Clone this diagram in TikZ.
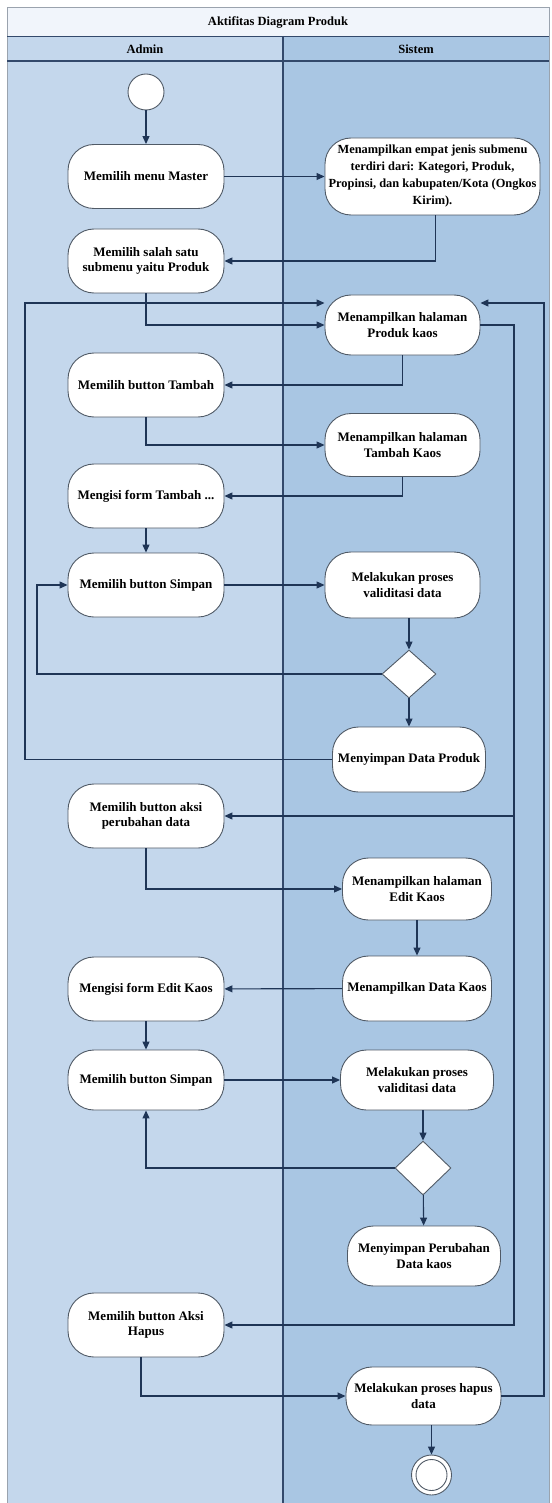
\documentclass[tikz,border=0pt]{standalone}
\usepackage{fontspec}
\setmainfont{Liberation Serif}
\usetikzlibrary{arrows.meta,shapes.geometric,calc}

\definecolor{frameline}{HTML}{9AA3AE}
\definecolor{laneline}{HTML}{33496B}
\definecolor{titlefill}{HTML}{F1F5FB}
\definecolor{adminfill}{HTML}{C4D7EC}
\definecolor{sistemfill}{HTML}{A9C6E3}
\definecolor{flowline}{HTML}{1F3556}
\definecolor{nodeline}{HTML}{505A66}

\begin{document}
\begin{tikzpicture}[x=1pt,y=-1pt,
  act/.style={draw=nodeline, line width=0.9pt, fill=white, rounded corners=26pt,
    minimum width=156pt, minimum height=64pt, align=center, inner sep=0pt,
    font=\fontsize{13}{15.5}\selectfont\bfseries},
  decision/.style={diamond, draw=nodeline, line width=0.9pt, fill=white,
    minimum width=54pt, minimum height=48pt, inner sep=0pt},
  flow/.style={draw=flowline, line width=1.1pt,
    -{Triangle[length=8pt,width=7pt]}},
  lanetext/.style={font=\fontsize{12.5}{14}\selectfont\bfseries}]

\useasboundingbox (0,0) rectangle (551,1503);

% swimlane frame
\fill[white] (0,0) rectangle (551,1503);
\fill[titlefill] (7,8) rectangle (549,36);
\fill[adminfill] (7,36) rectangle (283,1503);
\fill[sistemfill] (283,36) rectangle (549,1503);
\draw[frameline, line width=1pt] (7,1503) -- (7,8) -- (549,8) -- (549,1503);
\draw[laneline, line width=0.9pt] (7,36) -- (549,36);
\draw[laneline, line width=1.1pt] (7,61) -- (549,61);
\draw[laneline, line width=1.1pt] (283,36) -- (283,1503);

\node[lanetext] (title) at (278,22) {Aktifitas Diagram Produk};
\node[lanetext] (admin) at (145,49) {Admin};
\node[lanetext] (sistem) at (416,49) {Sistem};

% initial state
\node[circle, draw=nodeline, line width=0.9pt, fill=white, minimum size=36pt, inner sep=0pt] (start) at (146,92) {};

% Admin activities
\node[act] (A1) at (146,176.5) {Memilih menu Master};
\node[act] (A2) at (146,261) {Memilih salah satu\\submenu yaitu Produk};
\node[act] (A3) at (146,385) {Memilih button Tambah};
\node[act] (A4) at (146,496) {Mengisi form Tambah ...};
\node[act] (A5) at (146,585) {Memilih button Simpan};
\node[act] (A6) at (146,816) {Memilih button aksi\\perubahan data};
\node[act] (A7) at (146,989) {Mengisi form Edit Kaos};
\node[act, minimum height=60pt] (A8) at (146,1080) {Memilih button Simpan};
\node[act] (A9) at (146,1325) {Memilih button Aksi\\Hapus};

% Sistem activities
\node[act, minimum width=215pt, minimum height=77pt, font=\fontsize{12.4}{17}\selectfont\bfseries] (S1) at (432.5,176.5)
  {Menampilkan empat jenis submenu\\terdiri dari: Kategori, Produk,\\Propinsi, dan kabupaten/Kota (Ongkos\\Kirim).};
\node[act, minimum width=155pt, minimum height=60pt] (S2) at (402.5,325) {Menampilkan halaman\\Produk kaos};
\node[act, minimum width=155pt, minimum height=63pt] (S3) at (402.5,445) {Menampilkan halaman\\Tambah Kaos};
\node[act, minimum width=155pt, minimum height=66pt] (S4) at (402.5,585) {Melakukan proses\\validitasi data};
\node[decision] (D1) at (409,674) {};
\node[act, minimum width=153pt, minimum height=65pt] (S5) at (409,759.5) {Menyimpan Data Produk};
\node[act, minimum width=149pt, minimum height=62pt] (S6) at (417,889) {Menampilkan halaman\\Edit Kaos};
\node[act, minimum width=149pt, minimum height=65pt] (S7) at (417,988.5) {Menampilkan Data Kaos};
\node[act, minimum width=153pt, minimum height=60pt] (S8) at (417,1080) {Melakukan proses\\validitasi data};
\node[decision, minimum width=56pt, minimum height=54pt] (D2) at (423,1168) {};
\node[act, minimum width=153pt, minimum height=60pt] (S9) at (424,1256) {Menyimpan Perubahan\\Data kaos};
\node[act, minimum width=155pt, minimum height=58pt] (S10) at (423.5,1396) {Melakukan proses hapus\\data};

% final state
\node[circle, draw=nodeline, line width=0.9pt, fill=white, minimum size=40pt, inner sep=0pt] (end) at (431.5,1475) {};
\node[circle, draw=nodeline, line width=0.9pt, fill=white, minimum size=31pt, inner sep=0pt] (endin) at (end) {};

% routing columns
\coordinate (loopL) at (25,303);
\coordinate (loopS) at (37,0);
\coordinate (loopR) at (544,303);
\coordinate (railR) at (514,0);

% flows
\draw[flow] (start) -- (A1);
\draw[flow] (A1) -- (S1);
\draw[flow] ($(S1.south)+(3,0)$) |- (A2.east);
\draw[flow] (A2.south) |- (S2.west);
\draw[flow] (S5.west) -| (loopL) -- (S2.west |- loopL);
\draw[flow] (S10.east) -| (loopR) -- (S2.east |- loopR);
\draw[flow] (S2.east) -| (railR |- A9.east) -- (A9.east);
\draw[flow] (railR |- A6.east) -- (A6.east);
\draw[flow] (S2.south) |- (A3.east);
\draw[flow] (A3.south) |- (S3.west);
\draw[flow] (S3.south) |- (A4.east);
\draw[flow] (A4) -- (A5);
\draw[flow] (A5) -- (S4);
\draw[flow] (S4.south -| D1.north) -- (D1.north);
\draw[flow] (D1.west) -| (loopS |- A5.west) -- (A5.west);
\draw[flow] (D1) -- (S5);
\draw[flow] (A6.south) |- (S6.west);
\draw[flow] (S6) -- (S7);
\draw[flow] (S7) -- (A7);
\draw[flow] (A7) -- (A8);
\draw[flow] (A8) -- (S8);
\draw[flow] (S8.south -| D2.north) -- (D2.north);
\draw[flow] (D2.west) -| (A8.south);
\draw[flow] (D2) -- (S9);
\draw[flow] ($(A9.south)+(-5,0)$) |- (S10.west);
\draw[flow] (S10.south -| end.north) -- (end);
\end{tikzpicture}
\end{document}
